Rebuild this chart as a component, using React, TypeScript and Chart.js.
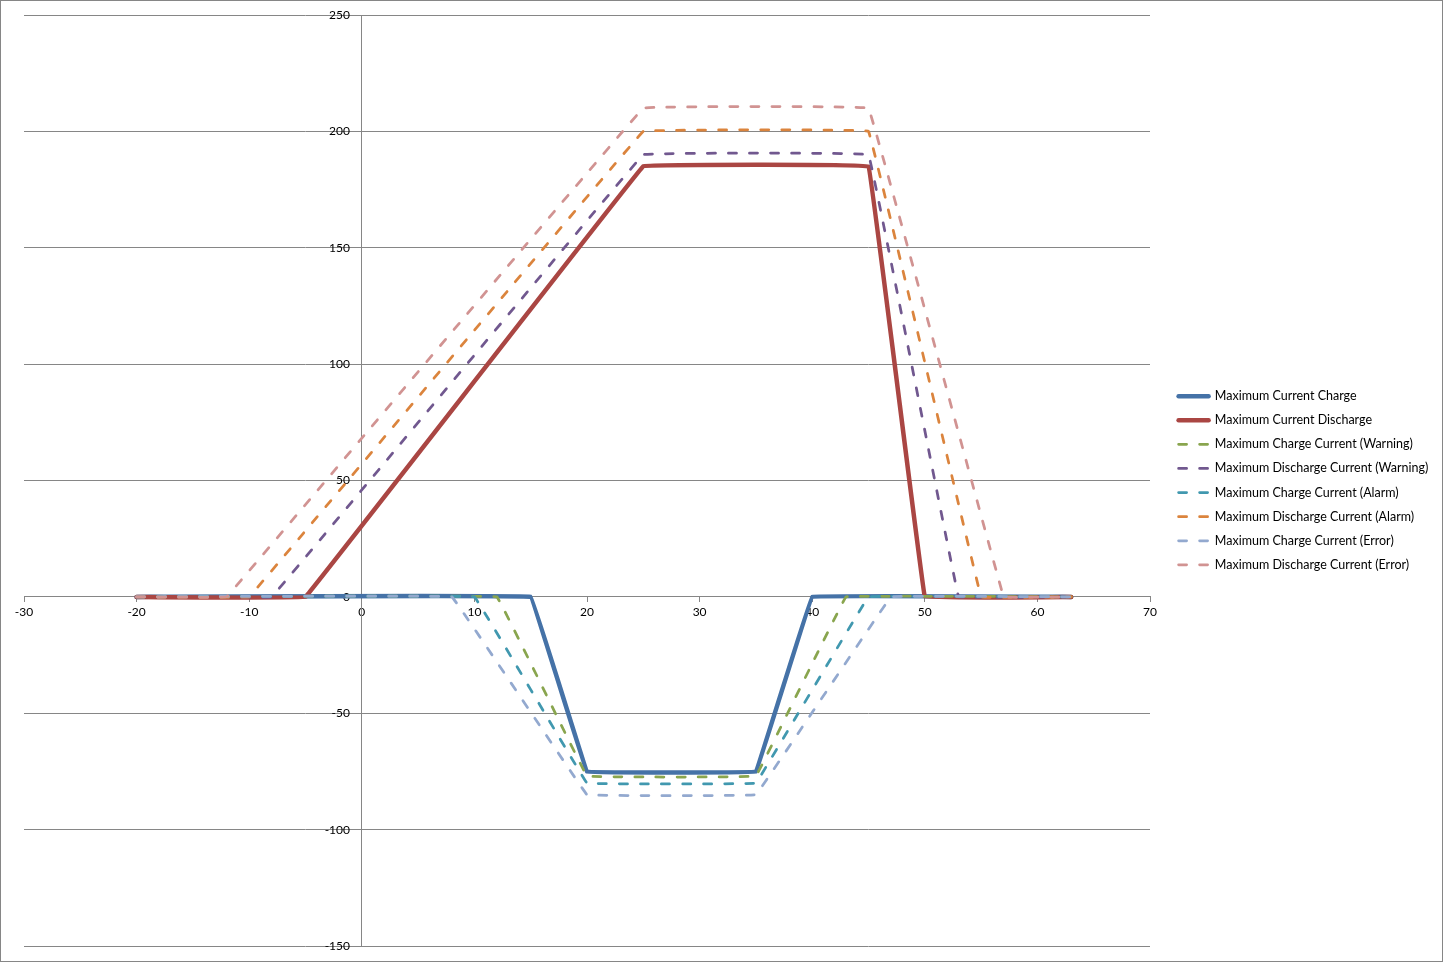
import React, { useEffect, useRef } from 'react';
import { Chart, registerables } from 'chart.js';

Chart.register(...registerables);

// ---- data ----
const seriesLabels = [
  'Maximum Current Charge',
  'Maximum Current Discharge',
  'Maximum Charge Current (Warning)',
  'Maximum Discharge Current (Warning)',
  'Maximum Charge Current (Alarm)',
  'Maximum Discharge Current (Alarm)',
  'Maximum Charge Current (Error)',
  'Maximum Discharge Current (Error)',
];

const chargeX = [-20, 15, 20, 35, 40, 63];
const chargeY = [0, 0, -75, -75, 0, 0];

const dischargeX = [-20, -5, 25, 45, 50, 63];
const dischargeY = [0, 0, 185, 185, 0, 0];

const chargeWarningX = [-20, 12, 20, 35, 43, 63];
const chargeWarningY = [0, 0, -77, -77, 0, 0];

const dischargeWarningX = [-20, -8, 25, 45, 53, 63];
const dischargeWarningY = [0, 0, 190, 190, 0, 0];

const chargeAlarmX = [-20, 10, 20, 35, 45, 63];
const chargeAlarmY = [0, 0, -80, -80, 0, 0];

const dischargeAlarmX = [-20, -10, 25, 45, 55, 63];
const dischargeAlarmY = [0, 0, 200, 200, 0, 0];

const chargeErrorX = [-20, 8, 20, 35, 47, 63];
const chargeErrorY = [0, 0, -85, -85, 0, 0];

const dischargeErrorX = [-20, -12, 25, 45, 57, 63];
const dischargeErrorY = [0, 0, 210, 210, 0, 0];

const xTickValues = [-30, -20, -10, 0, 10, 20, 30, 40, 50, 60, 70];
const yTickValues = [-150, -100, -50, 0, 50, 100, 150, 200, 250];

// ---- styles ----
const seriesColors = ['#4572A7', '#AA4643', '#89A54E', '#71588F', '#4198AF', '#DB843D', '#93A9CF', '#D19392'];
const seriesSolid = [true, true, false, false, false, false, false, false];
const GRID = '#868686';
const FONT = 'Lato, "Open Sans", sans-serif';

export default function App() {
  const ref = useRef<HTMLCanvasElement>(null);

  useEffect(() => {
    const canvas = ref.current;
    if (!canvas) return;
    const xs = [chargeX, dischargeX, chargeWarningX, dischargeWarningX, chargeAlarmX, dischargeAlarmX, chargeErrorX, dischargeErrorX];
    const ys = [chargeY, dischargeY, chargeWarningY, dischargeWarningY, chargeAlarmY, dischargeAlarmY, chargeErrorY, dischargeErrorY];

    const datasets = seriesLabels.map((label, i) => ({
      label,
      data: xs[i].map((x, k) => ({ x, y: ys[i][k] })),
      borderColor: seriesColors[i],
      backgroundColor: seriesColors[i],
      borderWidth: seriesSolid[i] ? 4.5 : 2.75,
      borderDash: seriesSolid[i] ? [] : [8, 13],
      borderCapStyle: 'round' as const,
      borderJoinStyle: 'round' as const,
      pointRadius: 0,
      pointHoverRadius: 0,
      showLine: true,
      tension: 0.015,
      fill: false,
      order: seriesLabels.length - 1 - i,
    }));

    const legendShift = {
      id: 'legendShift',
      afterLayout(chart: any) {
        const l = chart.legend;
        if (l) {
          l.left += 17;
          l.right = chart.width;
          l.width = l.right - l.left;
        }
      },
    };

    const frame = {
      id: 'frame',
      afterDraw(chart: any) {
        const c = chart.ctx;
        c.save();
        c.strokeStyle = GRID;
        c.lineWidth = 1;
        c.strokeRect(0.5, 0.5, chart.width - 1, chart.height - 1);
        c.restore();
      },
    };

    const chart = new Chart(canvas, {
      type: 'scatter',
      data: { datasets: datasets as any },
      plugins: [legendShift, frame],
      options: {
        responsive: false,
        animation: false,
        events: [],
        layout: { padding: { left: 24, top: 15, bottom: 16, right: 93 } },
        scales: {
          x: {
            type: 'linear',
            min: xTickValues[0],
            max: xTickValues[xTickValues.length - 1],
            position: { y: 0 } as any,
            afterFit: (s: any) => { s.height = 0; },
            ticks: {
              stepSize: xTickValues[1] - xTickValues[0],
              color: '#000',
              padding: 3,
              font: { family: FONT, size: 12 },
              maxRotation: 0,
              autoSkip: false,
            },
            grid: { display: true, drawOnChartArea: false, drawTicks: true, tickLength: 5, color: GRID },
            border: { display: true, color: GRID, width: 1 },
          },
          y: {
            type: 'linear',
            min: yTickValues[0],
            max: yTickValues[yTickValues.length - 1],
            position: { x: 0 } as any,
            afterFit: (s: any) => { s.width = 0; },
            ticks: { stepSize: yTickValues[1] - yTickValues[0], display: false },
            grid: { color: GRID, drawTicks: false, lineWidth: 1 },
            border: { display: true, color: GRID, width: 1 },
          },
          yLabels: {
            type: 'linear',
            min: yTickValues[0],
            max: yTickValues[yTickValues.length - 1],
            position: { x: -1.05 } as any,
            afterFit: (s: any) => { s.width = 0; },
            ticks: {
              stepSize: yTickValues[1] - yTickValues[0],
              color: '#000',
              font: { family: FONT, size: 12 },
              autoSkip: false,
            },
            grid: { display: false, drawTicks: false },
            border: { display: false },
          },
        },
        plugins: {
          tooltip: { enabled: false },
          title: { display: false },
          legend: {
            position: 'right',
            maxWidth: 200,
            labels: {
              usePointStyle: true,
              pointStyle: 'line',
              pointStyleWidth: 30,
              boxHeight: 10,
              padding: 11.6,
              color: '#000',
              font: { family: FONT, size: 12.5 },
              generateLabels: (ch: any) =>
                ch.data.datasets.map((ds: any, i: number) => ({
                  text: ds.label,
                  fillStyle: ds.borderColor,
                  strokeStyle: ds.borderColor,
                  lineWidth: ds.borderWidth,
                  lineDash: ds.borderDash,
                  lineCap: 'round',
                  lineJoin: 'round',
                  pointStyle: 'line',
                  hidden: false,
                  datasetIndex: i,
                  fontColor: '#000',
                })),
            },
          },
        },
      } as any,
    });

    return () => chart.destroy();
  }, []);

  return (
    <div style={{ position: 'absolute', left: 0, top: 0, width: 1443, height: 962, background: '#fff' }}>
      <canvas ref={ref} width={1443} height={962} style={{ display: 'block' }} />
    </div>
  );
}
